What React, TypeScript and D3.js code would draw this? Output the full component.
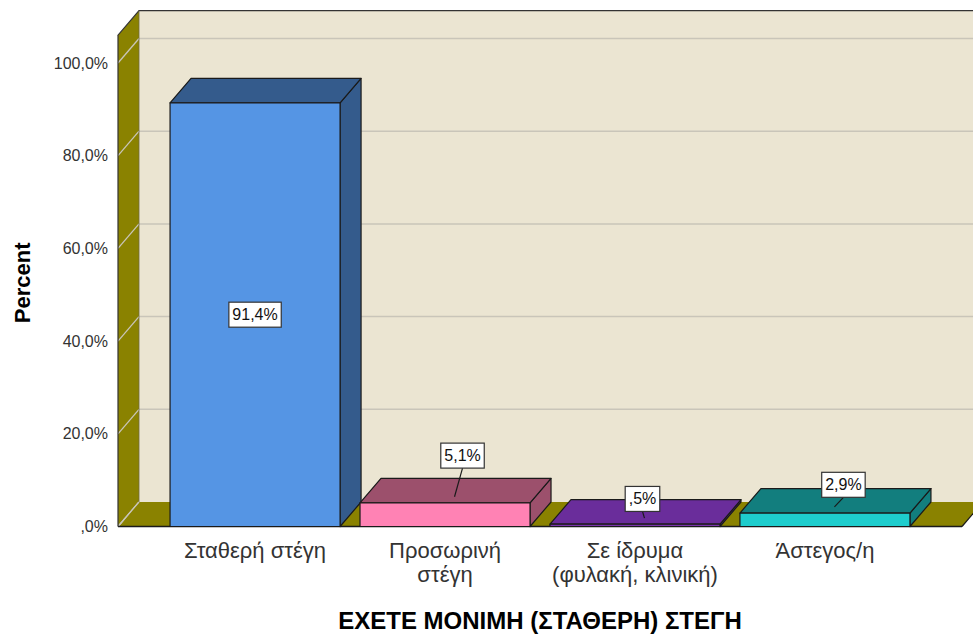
import * as React from "react";
import * as d3 from "d3";

// categories and values
const categories = ["Σταθερή στέγη", "Προσωρινή στέγη", "Σε ίδρυμα (φυλακή, κλινική)", "Άστεγος/η"];
const categoryLines = [["Σταθερή στέγη"], ["Προσωρινή", "στέγη"], ["Σε ίδρυμα", "(φυλακή, κλινική)"], ["Άστεγος/η"]];
const percents = [91.4, 5.1, 0.5, 2.9];
const valueLabels = ["91,4%", "5,1%", ",5%", "2,9%"];
const tickValues = [0, 20, 40, 60, 80, 100];
const tickLabels = [",0%", "20,0%", "40,0%", "60,0%", "80,0%", "100,0%"];

const frontColors = ["#5595e4", "#ff82b4", "#7a34ad", "#1ecdcd"];
const shadeColors = ["#345b8c", "#9c506c", "#6a2d9b", "#127e7e"];
const WALL = "#ebe5d2";
const OLIVE = "#8a8200";
const GRID = "#c9c5b9";
const EDGE = "#1a1a1a";

// label box nudges for the small bars (inside label for the big one)
const labelNudge = [[0, 0], [7, -35], [-3, -13], [8, -16]];

const W = 973, H = 635;
const DX = 21, DY = -24.5;
const FONT = "'Liberation Sans', Arial, sans-serif";

const charW: Record<string, number> = { ",": 0.278, "%": 0.889 };
const textWidth = (s: string, size: number) =>
  s.split("").reduce((a, c) => a + (charW[c] ?? 0.556), 0) * size;

export default function App() {
  const x = d3.scaleBand<string>()
    .domain(categories)
    .range([118, 962])
    .paddingInner(0.105)
    .paddingOuter(0.274);
  const y = d3.scaleLinear().domain([0, 100]).range([526.5, 63]);

  const left = 118, right = 962;
  const base = y(0);
  const top = y(106);
  const pts = (p: number[][]) => p.map(d => d.join(",")).join(" ");

  return (
    <svg width={W} height={H} style={{ position: "absolute", left: 0, top: 0, background: "#fff" }}
      fontFamily={FONT}>
      {/* back wall */}
      <rect x={left + DX} y={top + DY} width={W - left - DX + 10} height={base - top} fill={WALL} />
      {/* side wall */}
      <polygon points={pts([[left, top], [left + DX, top + DY], [left + DX, base + DY], [left, base]])}
        fill={OLIVE} />
      {/* grid lines */}
      {tickValues.map(v => (
        <g key={v}>
          <line x1={left} y1={y(v)} x2={left + DX} y2={y(v) + DY} stroke={GRID} strokeWidth={1.3} />
          {v > 0 && <line x1={left + DX} y1={y(v) + DY} x2={W} y2={y(v) + DY} stroke={GRID} strokeWidth={1.5} />}
        </g>
      ))}
      {/* floor */}
      <polygon points={pts([[left + 1, base], [right, base], [right + DX, base + DY], [left + DX, base + DY]])}
        fill={OLIVE} />
      <line x1={left} y1={base} x2={left + DX} y2={base + DY} stroke={GRID} strokeWidth={1.3} />
      <line x1={left} y1={base} x2={right} y2={base} stroke={EDGE} strokeWidth={1.5} />
      <line x1={right} y1={base} x2={right + DX} y2={base + DY} stroke={EDGE} strokeWidth={1.2} />
      {/* wall outlines */}
      <polyline points={pts([[left, base], [left, top], [left + DX, top + DY], [W, top + DY]])}
        fill="none" stroke="#333" strokeWidth={1.2} />
      <line x1={left + DX} y1={top + DY} x2={left + DX} y2={base + DY} stroke="#6f6a40" strokeWidth={0.8} />

      {/* bars */}
      {categories.map((c, i) => {
        const x0 = x(c)!, x1 = x0 + x.bandwidth();
        const yt = y(percents[i]);
        return (
          <g key={c} stroke={EDGE} strokeWidth={1.2} strokeLinejoin="round">
            <polygon points={pts([[x1, yt], [x1 + DX, yt + DY], [x1 + DX, base + DY], [x1, base]])}
              fill={shadeColors[i]} />
            <polygon points={pts([[x0, yt], [x1, yt], [x1 + DX, yt + DY], [x0 + DX, yt + DY]])}
              fill={shadeColors[i]} />
            <rect x={x0} y={yt} width={x1 - x0} height={base - yt} fill={frontColors[i]} />
          </g>
        );
      })}

      {/* value labels */}
      {categories.map((c, i) => {
        const cx = x(c)! + x.bandwidth() / 2;
        const yt = y(percents[i]);
        const inside = percents[i] > 50;
        const tw = textWidth(valueLabels[i], 16);
        const bw = tw + 7, bh = 25;
        const bx = inside ? cx : cx + DX / 2 + labelNudge[i][0];
        const by = inside ? (yt + base) / 2 : yt + DY / 2 + labelNudge[i][1];
        return (
          <g key={c}>
            {!inside && (
              <line x1={bx} y1={by + bh / 2} x2={cx + DX / 2 - 1} y2={yt + DY / 4}
                stroke={EDGE} strokeWidth={1.2} />
            )}
            <rect x={bx - bw / 2} y={by - bh / 2} width={bw} height={bh}
              fill="#fff" stroke="#333" strokeWidth={1.2} />
            <text x={bx} y={by} textAnchor="middle" dominantBaseline="central"
              fontSize={16} fill="#111">{valueLabels[i]}</text>
          </g>
        );
      })}

      {/* y axis tick labels */}
      {tickValues.map((v, i) => (
        <text key={v} x={108} y={y(v)} textAnchor="end" dominantBaseline="central"
          fontSize={16} fill="#333">{tickLabels[i]}</text>
      ))}

      {/* category labels */}
      {categories.map((c, i) => (
        <text key={c} x={x(c)! + x.bandwidth() / 2} y={558} textAnchor="middle" fontSize={22} fill="#333">
          {categoryLines[i].map((l, j) => (
            <tspan key={j} x={x(c)! + x.bandwidth() / 2} dy={j === 0 ? 0 : 24}>{l}</tspan>
          ))}
        </text>
      ))}

      {/* axis titles */}
      <text x={(left + right) / 2} y={629} textAnchor="middle" fontSize={24} fontWeight="bold" fill="#000">
        EXETE MONIMH (ΣΤΑΘΕΡΗ) ΣΤΕΓΗ
      </text>
      <text transform={`translate(30, ${(top + base) / 2 + 2}) rotate(-90)`} textAnchor="middle"
        fontSize={22} fontWeight="bold" fill="#000">Percent</text>
    </svg>
  );
}
